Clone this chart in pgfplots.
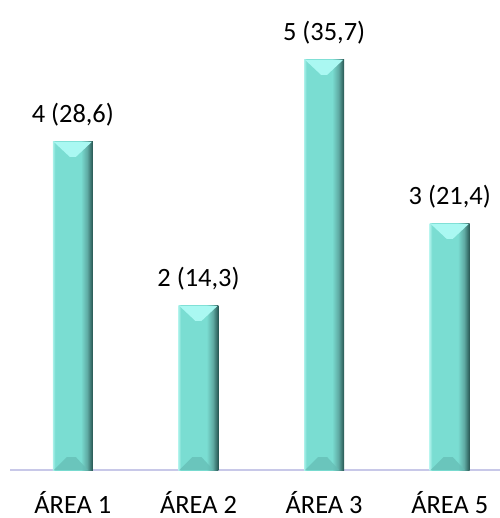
\documentclass[border=0pt]{standalone}
\usepackage{pgfplots}
\pgfplotsset{compat=1.18}
\usepackage{pgfplotstable}
\usepackage{fontspec}
\setmainfont{Carlito}
\definecolor{barmid}{RGB}{122,221,210}
\definecolor{barleft}{RGB}{170,240,233}
\definecolor{barright}{RGB}{38,84,80}
\definecolor{barright2}{RGB}{95,170,163}
\definecolor{bevel}{RGB}{170,248,242}
\definecolor{bevelbot}{RGB}{100,188,180}
\definecolor{axline}{RGB}{200,200,232}
\pgfdeclarehorizontalshading{barshade}{100bp}{color(0bp)=(barleft); color(25bp)=(barleft); color(28bp)=(barmid); color(60bp)=(barmid); color(68bp)=(barright2); color(75bp)=(barright); color(100bp)=(barright)}
\pgfdeclareplotmark{bevel}{%
  \pgfpathmoveto{\pgfqpoint{-19bp}{0bp}}%
  \pgfpathlineto{\pgfqpoint{19bp}{0bp}}%
  \pgfpathlineto{\pgfqpoint{3bp}{-15bp}}%
  \pgfpathlineto{\pgfqpoint{-3bp}{-15bp}}%
  \pgfpathclose\pgfusepathqfill}
\pgfdeclareplotmark{bevelbot}{%
  \pgfpathmoveto{\pgfqpoint{-19bp}{0bp}}%
  \pgfpathlineto{\pgfqpoint{15bp}{0bp}}%
  \pgfpathlineto{\pgfqpoint{3bp}{13bp}}%
  \pgfpathlineto{\pgfqpoint{-6bp}{13bp}}%
  \pgfpathclose\pgfusepathqfill}
\pgfplotstableread[col sep=semicolon]{
x;y;lab
0;4;4 (28,6)
1;2;2 (14,3)
2;5;5 (35,7)
3;3;3 (21,4)
}\datatable
\begin{document}
\begin{tikzpicture}
\begin{axis}[
  at={(0,0)}, anchor=south west,
  scale only axis,
  width=490bp, height=470bp,
  xmin=-0.5, xmax=3.4,
  ymin=0, ymax=5.73,
  axis x line*=bottom,
  axis y line=none,
  x axis line style={draw=axline, line width=1.2pt, -},
  xtick={0,1,2,3},
  xticklabels={ÁREA 1, ÁREA 2, ÁREA 3, ÁREA 5},
  xtick style={draw=none},
  xticklabel style={font=\fontsize{26.5}{30}\selectfont, inner sep=0pt, yshift=-21bp},
  ytick=\empty,
  clip=false,
  bar width=40bp,
  every node near coord/.append style={font=\fontsize{26.5}{30}\selectfont, yshift=12bp, text=black},
  bars/.style={ybar, bar shift=0pt, draw=none, shading=barshade, nodes near coords, point meta=explicit symbolic},
]
\addplot[bars] table[x=x, y=y, meta=lab, skip coords between index={1}{4}] {\datatable};
\addplot[bars] table[x=x, y=y, meta=lab, skip coords between index={0}{1}, skip coords between index={2}{4}] {\datatable};
\addplot[bars] table[x=x, y=y, meta=lab, skip coords between index={0}{2}, skip coords between index={3}{4}] {\datatable};
\addplot[bars] table[x=x, y=y, meta=lab, skip coords between index={0}{3}] {\datatable};
\addplot[only marks, mark=bevel, color=bevel, mark options={draw=none, fill=bevel}] table[x=x, y=y] {\datatable};
\addplot[only marks, mark=bevelbot, color=bevelbot, mark options={draw=none, fill=bevelbot, fill opacity=0.7}] table[x=x, y expr=0] {\datatable};
\end{axis}
\pgfresetboundingbox
\useasboundingbox (-10bp,-48bp) rectangle (490bp,470bp);
\end{tikzpicture}
\end{document}
